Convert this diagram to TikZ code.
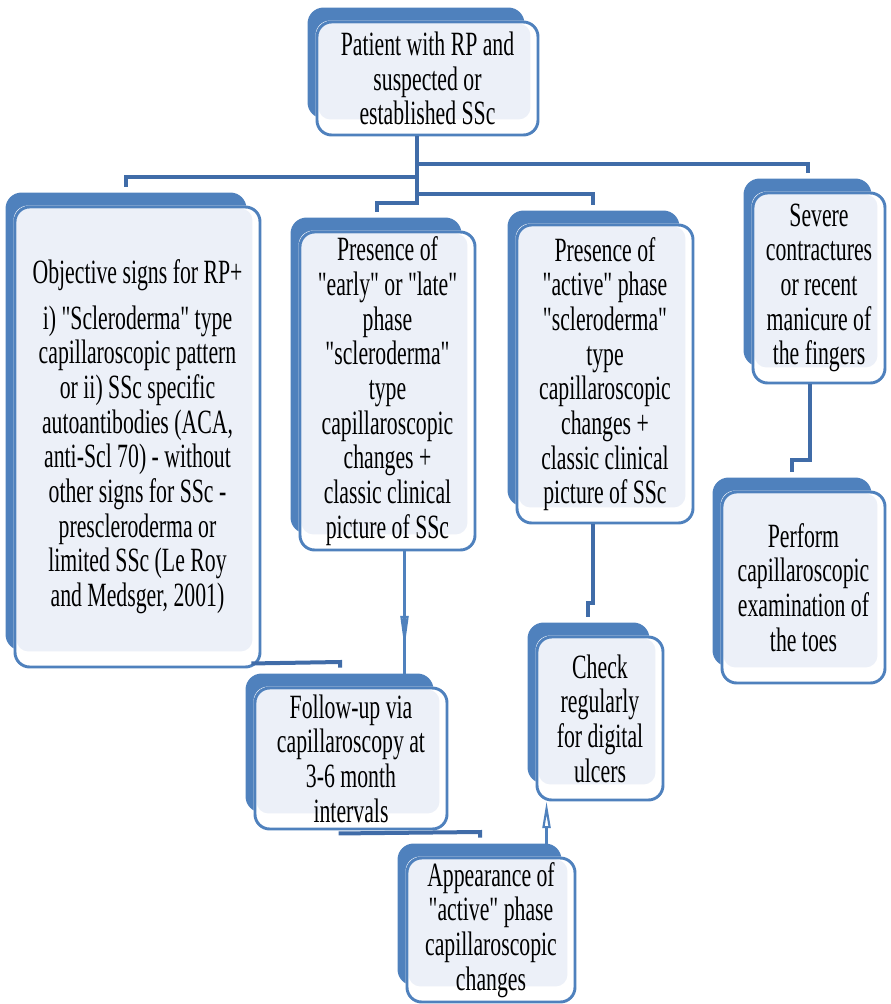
\documentclass[tikz,border=0pt]{standalone}
\usepackage{fontspec}
\setmainfont{Liberation Serif}[FakeStretch=0.64, Ligatures=TeXOff]
\usetikzlibrary{calc,backgrounds,arrows.meta,decorations.markings}
\definecolor{bluec}{RGB}{79,129,189}
\definecolor{connc}{RGB}{64,108,168}
\definecolor{panelc}{RGB}{236,240,248}
\tikzset{
  front/.style={draw=bluec, line width=2.2pt, rounded corners=11pt, inner sep=0pt, align=center,
    font=\fontsize{25.5}{26}\selectfont, text=black},
  conn/.style={draw=connc, line width=3pt},
  arrowc/.style={draw=bluec, line width=1.6pt},
}
\newcommand\flowbox[6]{%
  \node[front, minimum width={(#4-#2)*0.75pt}, minimum height={(#5-#3)*0.75pt}] (#1) at ({(#2+#4)/2},{(#3+#5)/2}) {#6};
  \coordinate (#1-bnw) at ($(#1.north west)+(-8,-13)$);
  \coordinate (#1-bse) at ($(#1.south east)+(-15,-18)$);
  \begin{scope}[on background layer]
    \fill[bluec, rounded corners=12pt] (#1-bnw) rectangle (#1-bse);
    \fill[white, rounded corners=11pt] (#1.north west) rectangle (#1.south east);
    \fill[panelc, rounded corners=9pt] ($(#1.north west)+(3,3)$) rectangle ($(#1.south east)+(-9,-17)$);
  \end{scope}
}
\begin{document}
\begin{tikzpicture}[x=0.75pt, y=-0.75pt]
\useasboundingbox (0,0) rectangle (890,1004);

\flowbox{top}{317}{22}{538}{135}{Patient with RP and\\ suspected or\\ established SSc}
\flowbox{b1}{15}{207}{260}{667}{Objective signs for RP+\\[8pt] i) "Scleroderma" type\\ capillaroscopic pattern\\ or ii) SSc specific\\ autoantibodies (ACA,\\ anti-Scl 70) - without\\ other signs for SSc -\\ prescleroderma or\\ limited SSc (Le Roy\\ and Medsger, 2001)}
\flowbox{b2}{300}{232}{475}{550}{Presence of\\ "early" or "late"\\ phase\\ "scleroderma"\\ type\\ capillaroscopic\\ changes +\\ classic clinical\\ picture of SSc}
\flowbox{b3}{517}{225}{693}{523}{Presence of\\ "active" phase\\ "scleroderma"\\ type\\ capillaroscopic\\ changes +\\ classic clinical\\ picture of SSc}
\flowbox{b4}{753}{193}{885}{383}{Severe\\ contractures\\ or recent\\ manicure of\\ the fingers}
\flowbox{ch}{537}{637}{663}{800}{Check\\ regularly\\ for digital\\ ulcers}
\flowbox{fu}{255}{688}{447}{829}{Follow-up via\\ capillaroscopy at\\ 3-6 month\\ intervals}
\flowbox{ap}{407}{858}{575}{1002}{Appearance of\\ "active" phase\\ capillaroscopic\\ changes}
\flowbox{pf}{722}{492}{885}{683}{Perform\\ capillaroscopic\\ examination of\\ the toes}

% trunk and branches
\coordinate (J) at (417,205);
\coordinate (e1) at (126,177);
\coordinate (e2) at (377,203);
\coordinate (e3) at (593,194);
\coordinate (e4) at (808,164);
\draw[conn] (top.south -| J) -- (J);
\draw[conn] (J |- e1) -- (e1) -- ($(e1 |- b1-bnw)+(0,-6)$);
\draw[conn] (J |- e2) -- (e2) -- ($(e2 |- b2-bnw)+(0,-6)$);
\draw[conn] (J |- e3) -- (e3) -- ($(e3 |- b3-bnw)+(0,-6)$);
\draw[conn] (J |- e4) -- (e4) -- ($(e4 |- b4-bnw)+(0,-6)$);

% box1 -> follow-up
\coordinate (e5) at (340,662);
\draw[conn] ($(b1.south east)+(-10,-5)$) -- (e5) -- ($(e5 |- fu-bnw)+(0,-6)$);

% box2 -> follow-up (arrow)
\coordinate (x2) at ($(b2.south)+(17,0)$);
\draw[arrowc, postaction={decorate}, decoration={markings,
  mark=at position 0.79 with {\arrow{Triangle[open, length=24pt, width=6pt]}}}]
  (x2) -- (x2 |- fu-bnw);

% box3 -> check
\coordinate (e6) at (593,603);
\coordinate (e7) at (588,603);
\draw[conn] (e6 |- b3.south) -- (e6) -- (e7) -- ($(e7 |- ch-bnw)+(0,-6)$);

% box4 -> perform
\coordinate (e8) at (810,460);
\coordinate (e9) at (792,460);
\draw[conn] (e8 |- b4.south) -- (e8) -- (e9) -- ($(e9 |- pf-bnw)+(0,-6)$);

% follow-up -> appearance
\coordinate (e10) at (480,832);
\draw[conn] ($(fu.south west)+(85,3)$) -- (e10) -- ($(e10 |- ap-bnw)+(0,-6)$);

% appearance -> check (arrow)
\coordinate (x3) at ($(ap-bnw)+(149,0)$);
\draw[arrowc, -{Triangle[open, length=20pt, width=6pt]}] (x3) -- (x3 |- ch.south);
\end{tikzpicture}
\end{document}
